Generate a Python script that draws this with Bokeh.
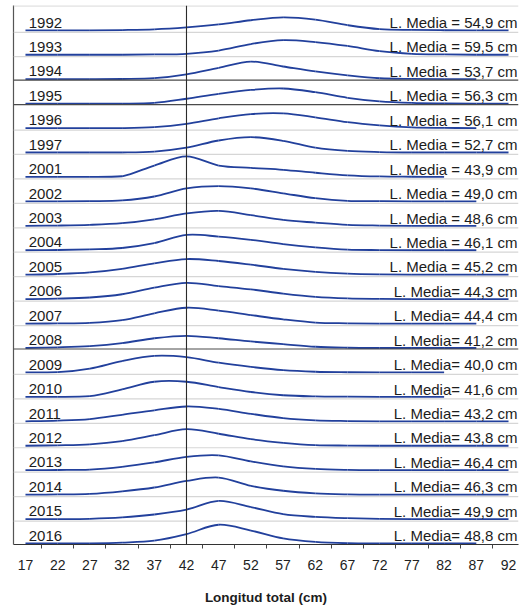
import numpy as np
from bokeh.plotting import figure
from bokeh.models import Range1d, Span, FixedTicker
from bokeh.core.properties import value
from bokeh.embed import file_html
from bokeh.resources import INLINE

# Length classes (cm) on the category axis
lengths = [17, 22, 27, 32, 37, 42, 47, 52, 57, 62, 67, 72, 77, 82, 87, 92]

years = ["1992", "1993", "1994", "1995", "1996", "1997", "2001", "2002",
         "2003", "2004", "2005", "2006", "2007", "2008", "2009", "2010",
         "2011", "2012", "2013", "2014", "2015", "2016"]

# Mean total length per year (cm)
mean_length = [54.9, 59.5, 53.7, 56.3, 56.1, 52.7, 43.9, 49.0, 48.6, 46.1,
               45.2, 44.3, 44.4, 41.2, 40.0, 41.6, 43.2, 43.8, 46.4, 46.3,
               49.9, 48.8]

# Length-frequency (%) per class; None = class not sampled
freq_1992 = [0, 0, 0, 0.3, 1, 3, 6, 10.3, 13.3, 11, 5.3, 1.2, 0.4, 0.1, 0, 0]
freq_1993 = [0, 0, 0, 0, 0.3, 1, 4.3, 11, 15, 13, 9, 3.7, 1, 0.3, 0, 0]
freq_1994 = [0, 0, 0, 0.2, 1, 5, 11.7, 18, 13, 8, 4, 1, 0.3, 0, 0, None]
freq_1995 = [0, 0, 0, 0, 0.7, 5, 10, 14, 15.5, 11.7, 6, 2.3, 0.7, 0.2, 0, 0]
freq_1996 = [0, 0, 0, 0, 1, 4.3, 10, 14.3, 15, 11, 6, 2.7, 0.7, 0.2, 0, None]
freq_1997 = [0, 0, 0, 0, 1, 5, 12.3, 15.7, 12, 5, 1.7, 0.5, 0, 0, 0, 0]
freq_2001 = [0, 0, 0, 0.7, 11.7, 21, 11.7, 9.3, 7.3, 4.3, 1.7, 0.5, 0.2, 0, None, None]
freq_2002 = [0, 0, 0.3, 1, 5, 13.3, 15.7, 13.3, 8.3, 3.3, 0.5, 0.2, 0, 0, 0, None]
freq_2003 = [0, 0.3, 1, 2.7, 6.7, 12.7, 15.3, 11, 6, 3.3, 1, 0.3, 0, 0, 0, None]
freq_2004 = [0, 0.3, 1, 2.3, 7.3, 15.7, 14, 10.7, 6.3, 3, 0.7, 0.2, 0, 0, 0, None]
freq_2005 = [0, 0.7, 2.3, 6, 11.7, 16, 14, 10.3, 6, 3, 1.2, 0.4, 0.1, 0, 0, 0]
freq_2006 = [0, 0.5, 1.7, 5, 11.7, 16.7, 13.3, 10, 5.7, 2.3, 0.7, 0.2, 0, 0, 0, 0]
freq_2007 = [0, 0.2, 0.7, 3.5, 10.5, 16.2, 13.3, 8.7, 4.3, 1, 0.3, 0, 0, 0, 0, None]
freq_2008 = [0, 0.7, 2, 5, 10, 12.5, 10, 6.7, 4, 1.3, 0.3, 0, 0, 0, 0, None]
freq_2009 = [0, 0.3, 4, 11.7, 17, 15.7, 10, 5.7, 2.3, 0.7, 0.2, 0, 0, 0, None, None]
freq_2010 = [0, 0, 0.7, 7.7, 15.5, 15.5, 10, 5, 1.7, 0.5, 0.2, 0, 0, 0, None, None]
freq_2011 = [0, 0.7, 2.3, 6.7, 11.3, 15.2, 12.7, 7.7, 3.3, 1, 0.3, 0, 0, 0, 0, 0]
freq_2012 = [0, 0.5, 1.5, 4.8, 10.8, 17, 12.3, 6.7, 3, 0.7, 0.2, 0, 0, 0, 0, 0]
freq_2013 = [0, 0.2, 0.7, 3.5, 8, 13.7, 15.2, 9, 4, 1.3, 0.3, 0, 0, 0, 0, 0]
freq_2014 = [0, 0.2, 0.7, 3.3, 7.3, 14, 17.5, 9, 4, 1.3, 0.3, 0, 0, 0, 0, 0]
freq_2015 = [0, 0, 0.3, 1.7, 4.7, 9.7, 18.7, 12.3, 5, 2.3, 1, 0.3, 0, 0, 0, 0]
freq_2016 = [0, 0, 0.2, 1, 3, 9.7, 19.2, 13.3, 5.3, 1.7, 0.3, 0, 0, 0, 0, None]

freqs = [freq_1992, freq_1993, freq_1994, freq_1995, freq_1996, freq_1997,
         freq_2001, freq_2002, freq_2003, freq_2004, freq_2005, freq_2006,
         freq_2007, freq_2008, freq_2009, freq_2010, freq_2011, freq_2012,
         freq_2013, freq_2014, freq_2015, freq_2016]

ROW = 25.0  # vertical room given to each year's panel (in % units)
n_rows = len(years)
bases = [(n_rows - 1 - i) * ROW for i in range(n_rows)]

FONT = value("Liberation Sans")
CURVE = "#22409c"

p = figure(width=521, height=607, output_backend="svg", toolbar_location=None,
           x_range=Range1d(15.14, 93.55), y_range=Range1d(-1.0, 550.4),
           min_border_left=13, min_border_right=3, min_border_top=5,
           min_border_bottom=59, background_fill_color="white",
           border_fill_color="white")
p.outline_line_color = None
p.grid.visible = False

# panel separators
dark_rows = {"1994", "1995", "2008"}
p.add_layout(Span(location=550.0, dimension="width", line_color="#d4d4d4", line_width=1.2))
for yr, b in zip(years[:-1], bases[:-1]):
    if yr in dark_rows:
        p.add_layout(Span(location=b - 1.0, dimension="width", line_color="#4a4a4a", line_width=1.2))
    else:
        p.add_layout(Span(location=b - 2.0, dimension="width", line_color="#d6d6d6", line_width=1.2))

# reference length
p.add_layout(Span(location=42, dimension="height", line_color="#2b2b2b", line_width=1.1))


def smooth(xs, ys, base):
    """Catmull-Rom style Bezier segments through the class points."""
    n = len(xs)
    out = {k: [] for k in ("x0", "y0", "x1", "y1", "cx0", "cy0", "cx1", "cy1")}
    for i in range(n - 1):
        xm, ym = (xs[i - 1], ys[i - 1]) if i > 0 else (xs[i], ys[i])
        xp, yp = (xs[i + 2], ys[i + 2]) if i + 2 < n else (xs[i + 1], ys[i + 1])
        out["x0"].append(xs[i]); out["y0"].append(base + ys[i])
        out["x1"].append(xs[i + 1]); out["y1"].append(base + ys[i + 1])
        out["cx0"].append(xs[i] + (xs[i + 1] - xm) / 6.0)
        out["cy0"].append(base + max(0.0, ys[i] + (ys[i + 1] - ym) / 6.0))
        out["cx1"].append(xs[i + 1] - (xp - xs[i]) / 6.0)
        out["cy1"].append(base + max(0.0, ys[i + 1] - (yp - ys[i]) / 6.0))
    return out


for f, b in zip(freqs, bases):
    xs = [x for x, v in zip(lengths, f) if v is not None]
    ys = [float(v) for v in f if v is not None]
    seg = smooth(xs, ys, b)
    p.bezier(**seg, line_color=CURVE, line_width=1.8)

# year names and mean length labels
label_y = [b + 8.0 for b in bases]
p.text(x=[17.5] * n_rows, y=label_y, text=years, text_font=FONT,
       text_font_size="15px", text_color="#1c1c1c", text_align="left",
       text_baseline="alphabetic")

mean_text = []
for yr, m in zip(years, mean_length):
    num = f"{m:.1f}".replace(".", ",")
    sep = " = " if int(yr) <= 2005 else "= "
    mean_text.append(f"L. Media{sep}{num} cm")
p.text(x=[93.4] * n_rows, y=label_y, text=mean_text, text_font=FONT,
       text_font_size="15px", text_color="#1c1c1c", text_align="right",
       text_baseline="alphabetic")

# axes
minor = [l + 2.5 for l in lengths[:-1]]
xa = p.xaxis[0]
xa.ticker = FixedTicker(ticks=lengths, minor_ticks=minor)
xa.major_tick_in = 0
xa.major_tick_out = 0
xa.minor_tick_in = 0
xa.minor_tick_out = 4
xa.minor_tick_line_color = "#444444"
xa.axis_line_color = "#333333"
xa.axis_line_width = 1.2
xa.major_label_text_font = "Liberation Sans"
xa.major_label_text_font_size = "14px"
xa.major_label_text_color = "#222222"
xa.major_label_standoff = 11
xa.axis_label = "Longitud total (cm)"
xa.axis_label_text_font = "Liberation Sans"
xa.axis_label_text_font_size = "13.5px"
xa.axis_label_text_font_style = "bold"
xa.axis_label_text_color = "#1c1c1c"
xa.axis_label_standoff = 17

ya = p.yaxis[0]
ya.ticker = FixedTicker(ticks=[])
ya.major_tick_out = 0
ya.major_tick_in = 0
ya.minor_tick_out = 0
ya.minor_tick_in = 0
ya.major_label_text_font_size = "0px"
ya.axis_line_color = "#555555"
ya.axis_line_width = 1.2

open("out.html", "w").write(file_html(p, INLINE))
